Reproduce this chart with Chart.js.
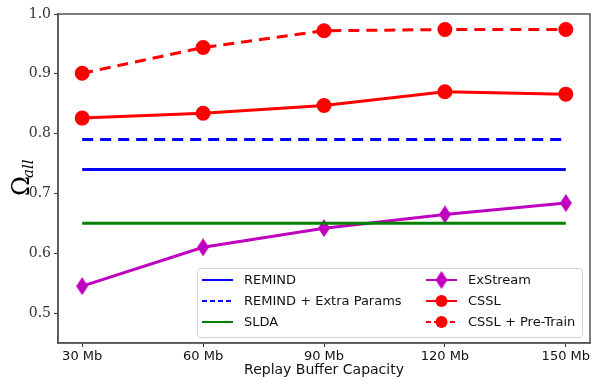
<!DOCTYPE html>
<html>
<head>
<meta charset="utf-8">
<script src="https://cdn.jsdelivr.net/npm/chart.js@4"></script>
<style>
  html, body { margin: 0; padding: 0; background: #fff; }
  #wrap { width: 591px; height: 379px; }
</style>
</head>
<body>
<div id="wrap"><canvas id="buffer-chart" width="591" height="379"></canvas></div>
<script>
const bufferSizes = [30, 60, 90, 120, 150];
const remind = [0.74, 0.74, 0.74, 0.74, 0.74];
const remindExtra = [0.79, 0.79, 0.79, 0.79, 0.79];
const slda = [0.65, 0.65, 0.65, 0.65, 0.65];
const exStream = [0.545, 0.610, 0.642, 0.665, 0.684];
const cssl = [0.826, 0.834, 0.847, 0.870, 0.866];
const csslPretrain = [0.901, 0.944, 0.972, 0.974, 0.974];
const yTicks = [0.5, 0.6, 0.7, 0.8, 0.9, 1.0];

const pts = (vals) => vals.map((v, i) => ({x: bufferSizes[i], y: v}));

// thin diamond like matplotlib 'd'
const diamond = document.createElement('canvas');
diamond.width = 12; diamond.height = 18;
(function () {
    const c = diamond.getContext('2d');
    c.fillStyle = 'rgb(191,0,191)';
    c.beginPath();
    c.moveTo(6, 0); c.lineTo(12, 9); c.lineTo(6, 18); c.lineTo(0, 9);
    c.closePath(); c.fill();
})();

const ctx = document.getElementById('buffer-chart');

const framePlugin = {
    id: 'frame',
    afterDraw(chart) {
        const c = chart.ctx;
        const a = chart.chartArea;
        c.save();
        c.strokeStyle = '#555';
        c.lineWidth = 1.5;
        c.strokeRect(a.left, a.top, a.right - a.left, a.bottom - a.top);

        // y axis title: Omega_all
        c.fillStyle = '#000';
        c.translate(29, 196);
        c.rotate(-Math.PI / 2);
        c.textBaseline = 'alphabetic';
        c.font = '24px "DejaVu Serif"';
        c.fillText('\u03A9', 0, 0);
        c.font = 'italic 15px "DejaVu Serif"';
        c.fillText('all', 18, 4);
        c.restore();

        // legend
        c.save();
        const bx = 197, by = 268, bw = 385, bh = 69;
        c.fillStyle = 'rgba(255,255,255,0.85)';
        c.strokeStyle = '#d0d0d0';
        c.lineWidth = 1;
        c.beginPath();
        c.roundRect(bx + 0.5, by + 0.5, bw, bh, 3);
        c.fill(); c.stroke();
        const rows = [280, 301, 322];
        const cols = [202, 426];
        c.font = '13px "DejaVu Sans"';
        c.textBaseline = 'middle';
        chart.data.datasets.forEach((ds, i) => {
            const col = Math.floor(i / 3), row = i % 3;
            const x0 = cols[col], y0 = rows[row];
            c.strokeStyle = ds.borderColor;
            c.lineWidth = 2;
            c.setLineDash(ds.borderDash && ds.borderDash.length ? [5, 3] : []);
            c.beginPath();
            c.moveTo(x0, y0); c.lineTo(x0 + 31, y0);
            c.stroke();
            c.setLineDash([]);
            if (ds.pointStyle === 'circle' && ds.pointRadius > 0) {
                c.fillStyle = ds.borderColor;
                c.beginPath();
                c.arc(x0 + 15.5, y0, 6, 0, Math.PI * 2);
                c.fill();
            } else if (ds.pointStyle === diamond) {
                c.drawImage(diamond, x0 + 9.5, y0 - 9);
            }
            c.fillStyle = '#111';
            c.fillText(ds.label, x0 + 42, y0 + 1);
        });
        c.restore();
    }
};

new Chart(ctx, {
    type: 'line',
    data: {
        datasets: [{
            label: 'REMIND',
            data: pts(remind),
            borderColor: 'rgb(0,0,255)',
            borderWidth: 3,
            pointRadius: 0,
            pointStyle: false,
        }, {
            label: 'REMIND + Extra Params',
            data: pts(remindExtra),
            borderColor: 'rgb(0,0,255)',
            borderWidth: 3,
            borderDash: [11, 7],
            pointRadius: 0,
            pointStyle: false,
        }, {
            label: 'SLDA',
            data: pts(slda),
            borderColor: 'rgb(0,128,0)',
            borderWidth: 3,
            pointRadius: 0,
            pointStyle: false,
        }, {
            label: 'ExStream',
            data: pts(exStream),
            borderColor: 'rgb(191,0,191)',
            backgroundColor: 'rgb(191,0,191)',
            borderWidth: 3,
            pointStyle: diamond,
            pointRadius: 7,
        }, {
            label: 'CSSL',
            data: pts(cssl),
            borderColor: 'rgb(255,0,0)',
            backgroundColor: 'rgb(255,0,0)',
            borderWidth: 3,
            pointStyle: 'circle',
            pointRadius: 6,
        }, {
            label: 'CSSL + Pre-Train',
            data: pts(csslPretrain),
            borderColor: 'rgb(255,0,0)',
            backgroundColor: 'rgb(255,0,0)',
            borderWidth: 3,
            borderDash: [11, 7],
            pointStyle: 'circle',
            pointRadius: 6,
        }]
    },
    options: {
        events: [],
        animation: false,
        responsive: false,
        layout: {
            autoPadding: false,
            padding: {top: 14, right: 1, left: 0, bottom: 0}
        },
        scales: {
            x: {
                type: 'linear',
                min: 24,
                max: 156,
                afterBuildTicks: (s) => { s.ticks = bufferSizes.map(v => ({value: v})); },
                afterFit: (s) => { s.height = 36; s.paddingLeft = 0; s.paddingRight = 0; },
                grid: {drawOnChartArea: false, tickLength: 4, color: '#333'},
                border: {color: '#555', width: 1.5},
                ticks: {
                    color: '#111',
                    padding: 2,
                    maxRotation: 0,
                    font: {family: 'DejaVu Sans', size: 13},
                    callback: (v) => v + ' Mb'
                },
                title: {
                    display: true,
                    text: 'Replay Buffer Capacity',
                    color: '#111',
                    padding: {top: 0, bottom: 0},
                    font: {family: 'DejaVu Sans', size: 14}
                }
            },
            y: {
                min: 0.45,
                max: 1.0,
                afterBuildTicks: (s) => { s.ticks = yTicks.map(v => ({value: v})); },
                afterFit: (s) => { s.width = 58; },
                grid: {drawOnChartArea: false, tickLength: 4, color: '#333'},
                border: {color: '#555', width: 1.5},
                ticks: {
                    color: '#333',
                    padding: 3,
                    font: {family: 'DejaVu Serif', size: 14},
                    callback: (v) => v.toFixed(1)
                }
            }
        },
        plugins: {
            legend: {display: false},
            tooltip: {enabled: false}
        }
    },
    plugins: [framePlugin]
});
</script>
</body>
</html>
